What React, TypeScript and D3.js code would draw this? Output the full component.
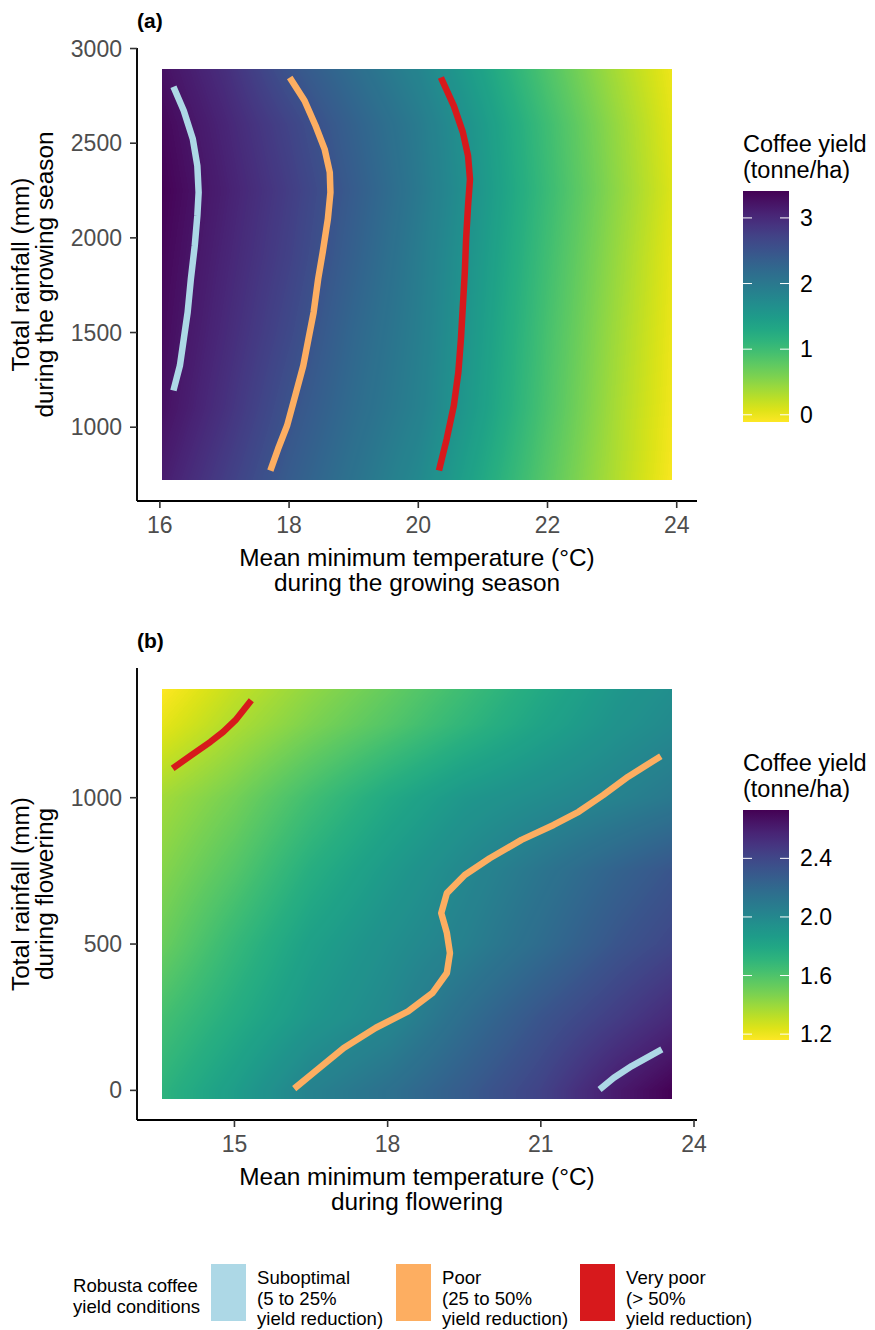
import React, { useMemo } from "react";
import * as d3 from "d3";

const FONT = "'Liberation Sans', Arial, Helvetica, sans-serif";

// legend for the contour lines
const conditionNames = ["Suboptimal", "Poor", "Very poor"];
const conditionNotes = ["(5 to 25%", "(25 to 50%", "(> 50%"];
const conditionColors = ["#ADD8E6", "#FDAE61", "#D7191C"];

// ---- panel (a): growing season ----
const tempA = [16, 17, 18, 19, 20, 21, 22, 23, 24];
const rainA = [720, 1100, 1500, 1900, 2250, 2600, 2900];
// one row per rainA value, one column per tempA value
const yieldA = [
  [3.15, 2.78, 2.40, 2.08, 1.76, 1.30, 0.80, 0.33, -0.11],
  [3.28, 2.92, 2.52, 2.18, 1.88, 1.42, 0.88, 0.38, -0.07],
  [3.33, 3.00, 2.64, 2.25, 1.92, 1.46, 0.92, 0.42, -0.04],
  [3.37, 3.06, 2.73, 2.34, 1.95, 1.50, 0.97, 0.47, -0.01],
  [3.41, 3.11, 2.78, 2.40, 2.00, 1.54, 1.02, 0.52, 0.04],
  [3.36, 3.05, 2.70, 2.32, 1.96, 1.50, 0.98, 0.48, 0.00],
  [3.27, 2.95, 2.50, 2.16, 1.82, 1.37, 0.86, 0.38, -0.05],
];
const rasterXA = [16.04, 23.92];
const rasterYA = [719, 2894];
const subA: [number, number][] = [
  [16.21, 2798], [16.37, 2671], [16.51, 2522], [16.58, 2381], [16.6, 2240], [16.58, 2117],
  [16.54, 1959], [16.48, 1783], [16.43, 1607], [16.37, 1466], [16.31, 1325], [16.21, 1194],
];
const poorA: [number, number][] = [
  [18.01, 2847], [18.24, 2724], [18.41, 2592], [18.55, 2469], [18.63, 2346], [18.64, 2240],
  [18.6, 2099], [18.52, 1923], [18.45, 1783], [18.38, 1607], [18.3, 1466], [18.22, 1325],
  [18.11, 1185], [17.97, 1009], [17.83, 886], [17.71, 771],
];
const veryPoorA: [number, number][] = [
  [20.35, 2847], [20.55, 2697], [20.69, 2557], [20.77, 2434], [20.8, 2310], [20.77, 2170],
  [20.74, 1994], [20.72, 1818], [20.69, 1642], [20.66, 1466], [20.62, 1290], [20.55, 1114],
  [20.44, 938], [20.32, 771],
];
const xTicksA = [16, 18, 20, 22, 24];
const yTicksA = [1000, 1500, 2000, 2500, 3000];
const legendTicksA = [0, 1, 2, 3];

// ---- panel (b): flowering ----
const tempB = [13.6, 15, 16.5, 18, 19.5, 21, 22.5, 23.6];
const rainB = [0, 250, 500, 750, 1000, 1250, 1375];
const yieldB = [
  [1.72, 1.86, 2.04, 2.15, 2.28, 2.42, 2.62, 2.73],
  [1.63, 1.76, 1.90, 2.00, 2.17, 2.32, 2.45, 2.55],
  [1.52, 1.68, 1.84, 1.95, 2.05, 2.18, 2.32, 2.40],
  [1.45, 1.58, 1.75, 1.88, 2.00, 2.12, 2.24, 2.32],
  [1.38, 1.49, 1.64, 1.78, 1.90, 1.97, 2.04, 2.10],
  [1.22, 1.35, 1.47, 1.58, 1.70, 1.82, 1.93, 1.99],
  [1.16, 1.30, 1.42, 1.53, 1.65, 1.78, 1.90, 1.96],
];
const rasterXB = [13.59, 23.56];
const rasterYB = [-31, 1373];
const subB: [number, number][] = [[22.15, 3], [22.43, 43], [22.78, 83], [23.37, 140]];
const poorB: [number, number][] = [
  [16.17, 6], [16.59, 66], [17.14, 145], [17.77, 214], [18.4, 270], [18.88, 333], [19.16, 401],
  [19.22, 469], [19.16, 538], [19.05, 606], [19.16, 674], [19.51, 736], [20.0, 793], [20.62, 856],
  [21.25, 907], [21.74, 952], [22.22, 1009], [22.71, 1072], [23.35, 1142],
];
const veryPoorB: [number, number][] = [
  [13.79, 1100], [14.15, 1145], [14.53, 1191], [14.78, 1225], [15.02, 1265], [15.33, 1333],
];
const xTicksB = [15, 18, 21, 24];
const yTicksB = [0, 500, 1000];
const legendTicksB = [1.2, 1.6, 2.0, 2.4];

const plotLeft = 137;
const plotRight = 697;
const barLeft = 743;
const barWidth = 46;

const expand = (r: number[]) => {
  const d = (r[1] - r[0]) * 0.05;
  return [r[0] - d, r[1] + d];
};

function bilinear(xs: number[], ys: number[], grid: number[][], px: number, py: number) {
  const cx = Math.max(xs[0], Math.min(xs[xs.length - 1], px));
  const cy = Math.max(ys[0], Math.min(ys[ys.length - 1], py));
  const i = Math.max(0, Math.min(xs.length - 2, d3.bisectRight(xs, cx) - 1));
  const j = Math.max(0, Math.min(ys.length - 2, d3.bisectRight(ys, cy) - 1));
  const tx = (cx - xs[i]) / (xs[i + 1] - xs[i]);
  const ty = (cy - ys[j]) / (ys[j + 1] - ys[j]);
  const a = grid[j][i] * (1 - tx) + grid[j][i + 1] * tx;
  const b = grid[j + 1][i] * (1 - tx) + grid[j + 1][i + 1] * tx;
  return a * (1 - ty) + b * ty;
}

function Panel(p: any) {
  const x = d3.scaleLinear().domain(expand(p.rasterX)).range([plotLeft, plotRight]);
  const y = d3.scaleLinear().domain(expand(p.rasterY)).range([p.bottom, p.top]);
  const ext = d3.extent(p.grid.flat() as number[]) as [number, number];
  const color = d3.scaleSequential((t: number) => d3.interpolateViridis(1 - t)).domain(ext);

  const raster = useMemo(() => {
    const x0 = Math.round(x(p.rasterX[0]));
    const x1 = Math.round(x(p.rasterX[1]));
    const y0 = Math.round(y(p.rasterY[1]));
    const y1 = Math.round(y(p.rasterY[0]));
    const w = x1 - x0, h = y1 - y0;
    const canvas = document.createElement("canvas");
    canvas.width = w;
    canvas.height = h;
    const ctx = canvas.getContext("2d")!;
    const img = ctx.createImageData(w, h);
    const lut = d3.range(512).map((k) => d3.rgb(d3.interpolateViridis(1 - k / 511)));
    for (let j = 0; j < h; j++) {
      const r = y.invert(y0 + j + 0.5);
      for (let i = 0; i < w; i++) {
        const t = x.invert(x0 + i + 0.5);
        const v = bilinear(p.xs, p.ys, p.grid, t, r);
        const k = Math.round(((v - ext[0]) / (ext[1] - ext[0])) * 511);
        const c = lut[Math.max(0, Math.min(511, k))];
        const o = (j * w + i) * 4;
        img.data[o] = c.r;
        img.data[o + 1] = c.g;
        img.data[o + 2] = c.b;
        img.data[o + 3] = 255;
      }
    }
    ctx.putImageData(img, 0, 0);
    return { url: canvas.toDataURL(), x0, y0, w, h };
  }, []);

  const line = d3.line<[number, number]>().x((d) => x(d[0])).y((d) => y(d[1]));
  const lg = d3.scaleLinear().domain(ext).range([p.barBottom, p.barTop]);
  const stops = d3.range(0, 1.0001, 0.05);
  const midY = (p.top + p.bottom) / 2;
  const midX = (plotLeft + plotRight) / 2;

  return (
    <g>
      <text x={137} y={p.top - 20} fontSize={21} fontWeight="bold">{p.label}</text>
      <image href={raster.url} x={raster.x0} y={raster.y0} width={raster.w} height={raster.h} />
      {p.lines.map((pts: [number, number][], k: number) => (
        <path key={k} d={line(pts)!} fill="none" stroke={conditionColors[k]} strokeWidth={6.5}
          strokeLinejoin="round" />
      ))}
      {/* axes */}
      <line x1={plotLeft} x2={plotLeft} y1={p.top} y2={p.bottom} stroke="#000" strokeWidth={1.9} />
      <line x1={plotLeft} x2={plotRight} y1={p.bottom} y2={p.bottom} stroke="#000" strokeWidth={1.9} />
      {p.xTicks.map((t: number) => (
        <g key={t}>
          <line x1={x(t)} x2={x(t)} y1={p.bottom} y2={p.bottom + 7} stroke="#333" strokeWidth={1.6} />
          <text x={x(t)} y={p.bottom + 32} textAnchor="middle" fill="#4D4D4D" fontSize={23}>{t}</text>
        </g>
      ))}
      {p.yTicks.map((t: number) => (
        <g key={t}>
          <line x1={plotLeft - 7} x2={plotLeft} y1={y(t)} y2={y(t)} stroke="#333" strokeWidth={1.6} />
          <text x={122} y={y(t) + 8} textAnchor="end" fill="#4D4D4D" fontSize={23}>{t}</text>
        </g>
      ))}
      <text x={midX} y={p.bottom + 65} textAnchor="middle" fontSize={24.4}>Mean minimum temperature (°C)</text>
      <text x={midX} y={p.bottom + 90} textAnchor="middle" fontSize={24.4}>{p.xTitle2}</text>
      <text transform={`translate(29,${midY}) rotate(-90)`} textAnchor="middle" fontSize={24.4}>Total rainfall (mm)</text>
      <text transform={`translate(53,${midY}) rotate(-90)`} textAnchor="middle" fontSize={24.4}>{p.yTitle2}</text>
      {/* colour bar */}
      <defs>
        <linearGradient id={p.id} x1="0" y1="0" x2="0" y2="1">
          {stops.map((s: number) => (
            <stop key={s} offset={s} stopColor={color(ext[1] - s * (ext[1] - ext[0]))} />
          ))}
        </linearGradient>
      </defs>
      <text x={barLeft} y={p.barTop - 39} fontSize={23.5}>Coffee yield</text>
      <text x={barLeft} y={p.barTop - 13} fontSize={23.5}>(tonne/ha)</text>
      <rect x={barLeft} y={p.barTop} width={barWidth} height={p.barBottom - p.barTop} fill={`url(#${p.id})`} />
      {p.legendTicks.map((t: number) => (
        <g key={t}>
          <line x1={barLeft} x2={barLeft + 9} y1={lg(t)} y2={lg(t)} stroke="#fff" strokeWidth={1} />
          <line x1={barLeft + barWidth - 9} x2={barLeft + barWidth} y1={lg(t)} y2={lg(t)} stroke="#fff" strokeWidth={1} />
          <text x={800} y={lg(t) + 8} fontSize={23}>{p.fmt(t)}</text>
        </g>
      ))}
    </g>
  );
}

export default function App() {
  const swatchX = [211, 396, 580];
  return (
    <svg width={875} height={1330} style={{ position: "absolute", left: 0, top: 0, background: "#fff" }}
      fontFamily={FONT}>
      <rect width={875} height={1330} fill="#fff" />
      <Panel id="gradA" label="(a)" top={48} bottom={501} xs={tempA} ys={rainA} grid={yieldA}
        rasterX={rasterXA} rasterY={rasterYA} lines={[subA, poorA, veryPoorA]}
        xTicks={xTicksA} yTicks={yTicksA} legendTicks={legendTicksA} fmt={(t: number) => String(t)}
        xTitle2="during the growing season" yTitle2="during the growing season"
        barTop={191} barBottom={422} />
      <Panel id="gradB" label="(b)" top={668} bottom={1120} xs={tempB} ys={rainB} grid={yieldB}
        rasterX={rasterXB} rasterY={rasterYB} lines={[subB, poorB, veryPoorB]}
        xTicks={xTicksB} yTicks={yTicksB} legendTicks={legendTicksB} fmt={d3.format(".1f")}
        xTitle2="during flowering" yTitle2="during flowering"
        barTop={810} barBottom={1040} />
      {/* bottom legend */}
      <text x={73} y={1292} fontSize={18.6}>Robusta coffee</text>
      <text x={73} y={1313} fontSize={18.6}>yield conditions</text>
      {conditionNames.map((n, k) => (
        <g key={n}>
          <rect x={swatchX[k]} y={1264} width={35} height={57} fill={conditionColors[k]} />
          <text x={swatchX[k] + 46} y={1284} fontSize={18.6}>{n}</text>
          <text x={swatchX[k] + 46} y={1304.5} fontSize={18.6}>{conditionNotes[k]}</text>
          <text x={swatchX[k] + 46} y={1325} fontSize={18.6}>yield reduction)</text>
        </g>
      ))}
    </svg>
  );
}
